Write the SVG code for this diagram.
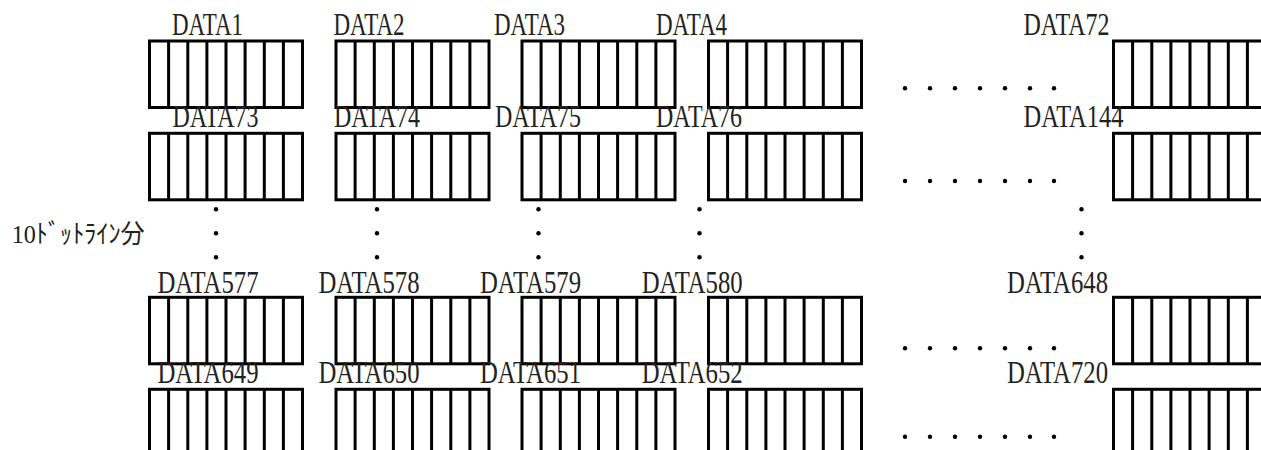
<svg xmlns="http://www.w3.org/2000/svg" xmlns:xlink="http://www.w3.org/1999/xlink" width="1261" height="450" viewBox="0 0 1261 450">
<style>
.box{fill:#fff;stroke:#000;stroke-width:3}
.cell{stroke:#000;stroke-width:3}
.lbl{font-family:"Liberation Serif","Noto Sans CJK JP",serif;font-size:30.5px;fill:#222}
.jp{font-family:"Liberation Serif","Noto Sans CJK JP",serif;font-size:26px;fill:#222}
.dot{fill:#000}
</style>
<defs>
<g id="reg">
<rect class="box" x="0" y="0" width="153" height="66.5"/>
<path class="cell" d="M19.1,0V66.5M38.3,0V66.5M57.4,0V66.5M76.5,0V66.5M95.6,0V66.5M114.8,0V66.5M133.9,0V66.5"/>
</g>
<g id="hdots">
<circle class="dot" cx="0" cy="0" r="2.2"/><circle class="dot" cx="25" cy="0" r="2.2"/><circle class="dot" cx="50" cy="0" r="2.2"/><circle class="dot" cx="75" cy="0" r="2.2"/><circle class="dot" cx="100" cy="0" r="2.2"/><circle class="dot" cx="125" cy="0" r="2.2"/><circle class="dot" cx="149" cy="0" r="2.2"/>
</g>
<g id="vdots">
<circle class="dot" cx="0" cy="0" r="2.2"/><circle class="dot" cx="0" cy="24" r="2.2"/><circle class="dot" cx="0" cy="48" r="2.2"/>
</g>
</defs>
<rect width="1261" height="450" fill="#fff"/>

<!-- Row 1 -->
<g id="data1"><use xlink:href="#reg" x="149.5" y="41"/><text class="lbl" x="172" y="35" textLength="71" lengthAdjust="spacingAndGlyphs">DATA1</text></g>
<g id="data2"><use xlink:href="#reg" x="336" y="41"/><text class="lbl" x="333.5" y="35" textLength="71" lengthAdjust="spacingAndGlyphs">DATA2</text></g>
<g id="data3"><use xlink:href="#reg" x="522" y="41"/><text class="lbl" x="494" y="35" textLength="71" lengthAdjust="spacingAndGlyphs">DATA3</text></g>
<g id="data4"><use xlink:href="#reg" x="708.5" y="41"/><text class="lbl" x="656" y="35" textLength="71" lengthAdjust="spacingAndGlyphs">DATA4</text></g>
<g id="data72"><use xlink:href="#reg" x="1113.5" y="41"/><text class="lbl" x="1023.5" y="35" textLength="86" lengthAdjust="spacingAndGlyphs">DATA72</text></g>

<!-- Row 2 -->
<g id="data73"><use xlink:href="#reg" x="149.5" y="133.3"/><text class="lbl" x="172.5" y="126.7" textLength="86" lengthAdjust="spacingAndGlyphs">DATA73</text></g>
<g id="data74"><use xlink:href="#reg" x="336" y="133.3"/><text class="lbl" x="334" y="126.7" textLength="86" lengthAdjust="spacingAndGlyphs">DATA74</text></g>
<g id="data75"><use xlink:href="#reg" x="522" y="133.3"/><text class="lbl" x="495" y="126.7" textLength="86" lengthAdjust="spacingAndGlyphs">DATA75</text></g>
<g id="data76"><use xlink:href="#reg" x="708.5" y="133.3"/><text class="lbl" x="656" y="126.7" textLength="86" lengthAdjust="spacingAndGlyphs">DATA76</text></g>
<g id="data144"><use xlink:href="#reg" x="1113.5" y="133.3"/><text class="lbl" x="1023.5" y="126.7" textLength="100" lengthAdjust="spacingAndGlyphs">DATA144</text></g>

<!-- Row 3 -->
<g id="data577"><use xlink:href="#reg" x="149.5" y="297.3"/><text class="lbl" x="157.5" y="293.3" textLength="101" lengthAdjust="spacingAndGlyphs">DATA577</text></g>
<g id="data578"><use xlink:href="#reg" x="336" y="297.3"/><text class="lbl" x="318.5" y="293.3" textLength="101" lengthAdjust="spacingAndGlyphs">DATA578</text></g>
<g id="data579"><use xlink:href="#reg" x="522" y="297.3"/><text class="lbl" x="480" y="293.3" textLength="101" lengthAdjust="spacingAndGlyphs">DATA579</text></g>
<g id="data580"><use xlink:href="#reg" x="708.5" y="297.3"/><text class="lbl" x="641.7" y="293.3" textLength="101" lengthAdjust="spacingAndGlyphs">DATA580</text></g>
<g id="data648"><use xlink:href="#reg" x="1113.5" y="297.3"/><text class="lbl" x="1007" y="293.3" textLength="101" lengthAdjust="spacingAndGlyphs">DATA648</text></g>

<!-- Row 4 -->
<g id="data649"><use xlink:href="#reg" x="149.5" y="389.3"/><text class="lbl" x="157.5" y="383.3" textLength="101" lengthAdjust="spacingAndGlyphs">DATA649</text></g>
<g id="data650"><use xlink:href="#reg" x="336" y="389.3"/><text class="lbl" x="318.5" y="383.3" textLength="101" lengthAdjust="spacingAndGlyphs">DATA650</text></g>
<g id="data651"><use xlink:href="#reg" x="522" y="389.3"/><text class="lbl" x="480" y="383.3" textLength="101" lengthAdjust="spacingAndGlyphs">DATA651</text></g>
<g id="data652"><use xlink:href="#reg" x="708.5" y="389.3"/><text class="lbl" x="641.7" y="383.3" textLength="101" lengthAdjust="spacingAndGlyphs">DATA652</text></g>
<g id="data720"><use xlink:href="#reg" x="1113.5" y="389.3"/><text class="lbl" x="1007" y="383.3" textLength="101" lengthAdjust="spacingAndGlyphs">DATA720</text></g>

<!-- ellipses -->
<g id="ellipses">
<use xlink:href="#hdots" x="905" y="88.3"/>
<use xlink:href="#hdots" x="905" y="181"/>
<use xlink:href="#hdots" x="905" y="348.3"/>
<use xlink:href="#hdots" x="905" y="436.7"/>
<use xlink:href="#vdots" x="216" y="209.3"/>
<use xlink:href="#vdots" x="377" y="209.3"/>
<use xlink:href="#vdots" x="538.5" y="209.3"/>
<use xlink:href="#vdots" x="699.5" y="209.3"/>
<use xlink:href="#vdots" x="1081.5" y="209.3"/>
</g>

<g id="note"><text class="jp" x="11.7" y="243.3" textLength="133" lengthAdjust="spacingAndGlyphs">10ﾄﾞｯﾄﾗｲﾝ分</text></g>
</svg>
